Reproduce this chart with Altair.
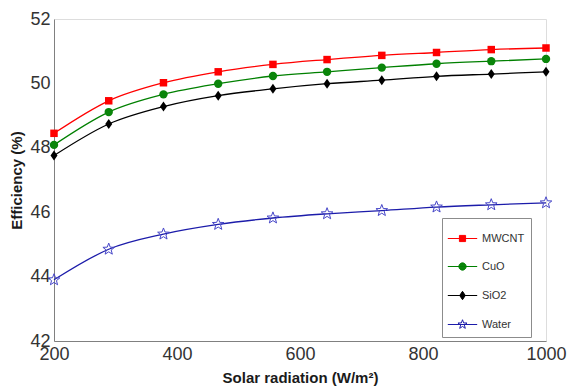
import math
import altair as alt
import pandas as pd

# ---------------- data ----------------
radiation = [200, 289, 378, 467, 556, 644, 733, 822, 911, 1000]
series_names = ["MWCNT", "CuO", "SiO2", "Water"]
mwcnt = [48.45, 49.46, 50.02, 50.36, 50.59, 50.74, 50.87, 50.96, 51.05, 51.10]
cuo = [48.09, 49.11, 49.66, 49.99, 50.23, 50.36, 50.49, 50.61, 50.69, 50.76]
sio2 = [47.76, 48.74, 49.28, 49.62, 49.83, 49.99, 50.10, 50.22, 50.29, 50.36]
water = [43.90, 44.85, 45.32, 45.62, 45.82, 45.95, 46.05, 46.16, 46.23, 46.29]
x_ticks = [200, 400, 600, 800, 1000]
y_ticks = [42, 44, 46, 48, 50, 52]

values = [mwcnt, cuo, sio2, water]
rows = []
for name, vals in zip(series_names, values):
    for xv, yv in zip(radiation, vals):
        rows.append({"radiation": xv, "efficiency": yv, "series": name})
df = pd.DataFrame(rows)

# ---------------- styles ----------------
FONT = "Liberation Sans"
line_colors = ["#ff0000", "#008000", "#000000", "#1c1caa"]
marker_colors = ["#ff0000", "#0a850a", "#000000", "#4646c8"]
legend_fills = ["#ff0000", "#0a850a", "#000000", "#ffffff"]


def fmt(v):
    return f"{v:.3f}"


def poly(pts):
    return "M" + "L".join(f"{fmt(a)},{fmt(b)}" for a, b in pts) + "Z"


def square_path(h):
    return poly([(-h, -h), (h, -h), (h, h), (-h, h)])


def circle_path(r, n=20):
    return poly([(r * math.cos(2 * math.pi * k / n), r * math.sin(2 * math.pi * k / n)) for k in range(n)])


def diamond_path(w, h):
    return poly([(0, -h), (w, 0), (0, h), (-w, 0)])


def star_path(ro, ri):
    pts = []
    for k in range(10):
        r = ro if k % 2 == 0 else ri
        a = -math.pi / 2 + k * math.pi / 5
        pts.append((r * math.cos(a), r * math.sin(a)))
    return poly(pts)


point_shapes = ["square", "circle", diamond_path(0.7, 1.0), star_path(1.0, 0.42)]
point_sizes = [56, 70, 100, 150]
point_filled = [True, True, True, False]

seg = "M-1.05,0L1.05,0"
legend_paths = [
    seg + square_path(0.22),
    seg + circle_path(0.26),
    seg + diamond_path(0.2, 0.3),
    seg + star_path(0.34, 0.14),
]

W, H = 492, 322

x_scale = alt.Scale(domain=[200, 1000], nice=False, zero=False)
y_scale = alt.Scale(domain=[42, 52], nice=False, zero=False)

x_axis_main = alt.Axis(
    values=x_ticks, ticks=False, grid=False, labelFlush=False, format="d",
    domainColor="#808080", labelFont=FONT, labelFontSize=18, labelColor="#333333",
    labelPadding=4, title="Solar radiation (W/m²)", titleFont=FONT, titleFontSize=15,
    titleFontWeight="bold", titleColor="#1a1a1a", titlePadding=7,
)
y_axis_main = alt.Axis(
    values=y_ticks, ticks=False, grid=False, labelFlush=False, format="d",
    domainColor="#808080", labelFont=FONT, labelFontSize=18, labelColor="#333333",
    labelPadding=4, title="Efficiency (%)", titleFont=FONT, titleFontSize=15,
    titleFontWeight="bold", titleColor="#1a1a1a", titlePadding=5,
)

base = alt.Chart(df)

leg = alt.Legend(
    title=None, orient="none", legendX=388, legendY=199, symbolSize=784,
    symbolStrokeWidth=1, symbolOpacity=1, labelFont=FONT, labelFontSize=11,
    labelColor="#333333", labelOffset=5, padding=6, rowPadding=8,
    fillColor="white", strokeColor="#8c8c8c",
)

# first layer: invisible points that carry the axes and the legend
legend_layer = base.mark_point(filled=True, opacity=0, strokeWidth=1).encode(
    x=alt.X("radiation:Q", scale=x_scale, axis=x_axis_main),
    y=alt.Y("efficiency:Q", scale=y_scale, axis=y_axis_main),
    stroke=alt.Stroke("series:N", scale=alt.Scale(domain=series_names, range=line_colors), legend=leg),
    fill=alt.Fill("series:N", scale=alt.Scale(domain=series_names, range=legend_fills), legend=leg),
    shape=alt.Shape("series:N", scale=alt.Scale(domain=series_names, range=legend_paths), legend=leg),
)

lines = base.mark_line(interpolate="monotone", strokeWidth=1.3).encode(
    x=alt.X("radiation:Q", axis=None),
    y=alt.Y("efficiency:Q", axis=None),
    color=alt.Color("series:N", scale=alt.Scale(domain=series_names, range=line_colors), legend=None),
)

layers = [legend_layer, lines]
for i, name in enumerate(series_names):
    props = dict(shape=point_shapes[i], size=point_sizes[i], opacity=1, strokeWidth=1)
    if point_filled[i]:
        mk = base.transform_filter(alt.datum.series == name).mark_point(
            filled=True, color=marker_colors[i], **props)
    else:
        mk = base.transform_filter(alt.datum.series == name).mark_point(
            filled=False, stroke=marker_colors[i], **props)
    layers.append(mk.encode(x=alt.X("radiation:Q", axis=None), y=alt.Y("efficiency:Q", axis=None)))

chart = alt.layer(*layers).resolve_axis(x="independent", y="independent").properties(
    width=W, height=H,
    autosize=alt.AutoSizeParams(type="none"),
    padding={"left": 54, "top": 19, "right": 22, "bottom": 51},
).configure_view(stroke=None).configure(background="white")

chart.save("out.html", embed_options={"renderer": "svg", "actions": False})
